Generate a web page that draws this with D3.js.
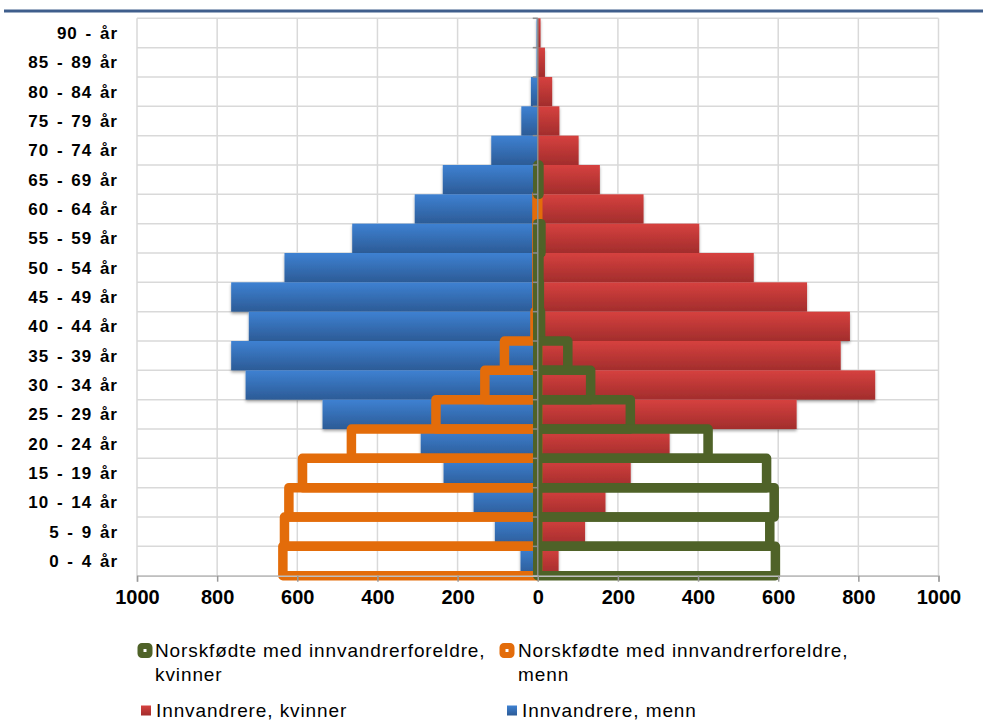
<!DOCTYPE html>
<html>
<head>
<meta charset="utf-8">
<script src="https://cdn.jsdelivr.net/npm/d3@7"></script>
<style>
  html, body { margin: 0; padding: 0; background: #fff; }
  svg { display: block; }
</style>
</head>
<body>
<div id="chart"></div>
<script>
// ---------- data ----------
const categories = ["90 - år","85 - 89 år","80 - 84 år","75 - 79 år","70 - 74 år","65 - 69 år","60 - 64 år","55 - 59 år","50 - 54 år","45 - 49 år","40 - 44 år","35 - 39 år","30 - 34 år","25 - 29 år","20 - 24 år","15 - 19 år","10 - 14 år","5 - 9 år","0 - 4 år"];
const innvandrereMenn    = [3, 3, 17, 41, 116, 237, 307, 463, 632, 765, 721, 765, 729, 537, 292, 235, 160, 107, 43];
const innvandrereKvinner = [7, 18, 36, 54, 102, 155, 264, 403, 539, 672, 779, 756, 842, 646, 329, 232, 169, 118, 52];
const norskfodteMenn     = [0, 0, 0, 0, 0, 0, 2, 2, 2, 2, 7, 83, 132, 254, 465, 587, 621, 632, 636];
const norskfodteKvinner  = [0, 0, 0, 0, 0, 3, 0, 8, 3, 4, 7, 75, 132, 231, 425, 571, 590, 579, 593];
const xTicks = [-1000, -800, -600, -400, -200, 0, 200, 400, 600, 800, 1000];
const legendLabels = [
  ["Norskfødte med innvandrerforeldre,", "kvinner"],
  ["Norskfødte med innvandrerforeldre,", "menn"],
  ["Innvandrere, kvinner"],
  ["Innvandrere, menn"]
];

// ---------- layout ----------
const W = 983, H = 722;
const plot = { left: 137, right: 938.5, top: 18.3, bottom: 575.7 };
const colors = { green: "#4f6228", orange: "#e36c0a", grid: "#d9d9d9", axis: "#8c8c8c" };

const svg = d3.select("#chart").append("svg").attr("width", W).attr("height", H)
  .style("font-family", "'Liberation Sans', Arial, sans-serif");
svg.append("rect").attr("width", W).attr("height", H).attr("fill", "#fff");

const defs = svg.append("defs");
function grad(id, top, bottom) {
  const g = defs.append("linearGradient").attr("id", id).attr("x1", 0).attr("y1", 0).attr("x2", 0).attr("y2", 1);
  g.append("stop").attr("offset", "0%").attr("stop-color", top);
  g.append("stop").attr("offset", "100%").attr("stop-color", bottom);
}
grad("gBlue", "#3e81d2", "#2c5b96");
grad("gRed", "#d6413f", "#a22d2c");
const f = defs.append("filter").attr("id", "shadow").attr("x", "-10%").attr("y", "-20%").attr("width", "120%").attr("height", "150%");
f.append("feDropShadow").attr("dx", 0).attr("dy", 2).attr("stdDeviation", 1.6).attr("flood-color", "#000").attr("flood-opacity", 0.35);

// header rule
svg.append("rect").attr("x", 4).attr("y", 9.5).attr("width", W - 4).attr("height", 3).attr("fill", "#3f5e8c");

const x = d3.scaleLinear().domain([-1000, 1000]).range([plot.left, plot.right]);
const y = d3.scaleBand().domain(categories).range([plot.top, plot.bottom]).padding(0);

// grid
const g = svg.append("g");
g.selectAll(".vg").data(xTicks).join("line")
  .attr("x1", d => x(d)).attr("x2", d => x(d))
  .attr("y1", plot.top).attr("y2", plot.bottom)
  .attr("stroke", colors.grid).attr("stroke-width", 1.5);
g.selectAll(".hg").data(categories).join("line")
  .attr("x1", plot.left).attr("x2", plot.right)
  .attr("y1", d => y(d)).attr("y2", d => y(d))
  .attr("stroke", colors.grid).attr("stroke-width", 1.5);
g.append("line").attr("x1", plot.left).attr("x2", plot.right).attr("y1", plot.bottom).attr("y2", plot.bottom)
  .attr("stroke", colors.grid).attr("stroke-width", 1.5);

// filled bars
const bars = svg.append("g").attr("filter", "url(#shadow)");
bars.selectAll(".blue").data(categories).join("rect")
  .attr("x", (d, i) => x(-innvandrereMenn[i])).attr("y", d => y(d))
  .attr("width", (d, i) => x(0) - x(-innvandrereMenn[i])).attr("height", y.bandwidth())
  .attr("fill", "url(#gBlue)");
bars.selectAll(".red").data(categories).join("rect")
  .attr("x", x(0)).attr("y", d => y(d))
  .attr("width", (d, i) => x(innvandrereKvinner[i]) - x(0)).attr("height", y.bandwidth())
  .attr("fill", "url(#gRed)");

// outlined bars
const sw = 9.5;
const outl = svg.append("g");
outl.selectAll(".orange").data(categories.filter((d, i) => norskfodteMenn[i] > 0)).join("rect")
  .attr("x", d => x(-norskfodteMenn[categories.indexOf(d)])).attr("y", d => y(d))
  .attr("width", d => x(0) - x(-norskfodteMenn[categories.indexOf(d)])).attr("height", y.bandwidth())
  .attr("fill", "none").attr("stroke", colors.orange).attr("stroke-width", sw).attr("stroke-linejoin", "round");
outl.selectAll(".green").data(categories.filter((d, i) => norskfodteKvinner[i] > 0)).join("rect")
  .attr("x", x(0)).attr("y", d => y(d))
  .attr("width", d => x(norskfodteKvinner[categories.indexOf(d)]) - x(0)).attr("height", y.bandwidth())
  .attr("fill", "none").attr("stroke", colors.green).attr("stroke-width", sw).attr("stroke-linejoin", "round");

// vertical axis at zero with tick marks between categories
svg.append("line").attr("x1", x(0)).attr("x2", x(0)).attr("y1", plot.top).attr("y2", plot.bottom)
  .attr("stroke", colors.axis).attr("stroke-width", 1.5);
svg.selectAll(".ct").data(categories.concat(["__end"])).join("line")
  .attr("x1", x(0) - 5).attr("x2", x(0))
  .attr("y1", (d, i) => plot.top + i * y.step()).attr("y2", (d, i) => plot.top + i * y.step())
  .attr("stroke", colors.axis).attr("stroke-width", 1.5);

// category labels
svg.selectAll(".cl").data(categories).join("text")
  .attr("x", 118).attr("y", d => y(d) + y.bandwidth() / 2 + 6)
  .attr("text-anchor", "end").attr("font-size", 17).attr("font-weight", "bold")
  .attr("letter-spacing", 1).attr("word-spacing", 2).attr("fill", "#000")
  .text(d => d);

// bottom axis
const xAxis = d3.axisBottom(x).tickValues(xTicks).tickFormat(d => Math.abs(d)).tickSize(6).tickPadding(8);
const ax = svg.append("g").attr("transform", `translate(0,${plot.bottom})`).call(xAxis);
ax.select(".domain").attr("stroke", "#bfbfbf").attr("stroke-width", 1.5);
ax.selectAll(".tick line").attr("stroke", "#999").attr("stroke-width", 1.5);
ax.selectAll(".tick text").attr("font-size", 20).attr("font-weight", "bold").attr("fill", "#000")
  .attr("font-family", "'Liberation Sans', Arial, sans-serif").attr("dy", "0.72em");

// legend
const leg = svg.append("g").attr("font-size", 19).attr("letter-spacing", 0.9).attr("fill", "#000");
function outlineMarker(cx, cy, color) {
  leg.append("rect").attr("x", cx - 4.5).attr("y", cy - 4.5).attr("width", 9).attr("height", 9).attr("rx", 1.5)
    .attr("fill", "#fff").attr("stroke", color).attr("stroke-width", 6).attr("stroke-linejoin", "round");
}
function filledMarker(cx, cy, fill) {
  leg.append("rect").attr("x", cx - 5).attr("y", cy - 5).attr("width", 10).attr("height", 10).attr("fill", fill);
}
outlineMarker(145, 650.5, colors.green);
outlineMarker(507, 650.5, colors.orange);
filledMarker(146, 710.5, "url(#gRed)");
filledMarker(512, 710.5, "url(#gBlue)");
const legPos = [[155, 657], [518, 657], [156, 716.5], [522, 716.5]];
legendLabels.forEach((lines, k) => {
  const t = leg.append("text").attr("x", legPos[k][0]).attr("y", legPos[k][1]);
  lines.forEach((ln, j) => {
    t.append("tspan").attr("x", legPos[k][0]).attr("dy", j === 0 ? 0 : 23.5).text(ln);
  });
});
</script>
</body>
</html>
